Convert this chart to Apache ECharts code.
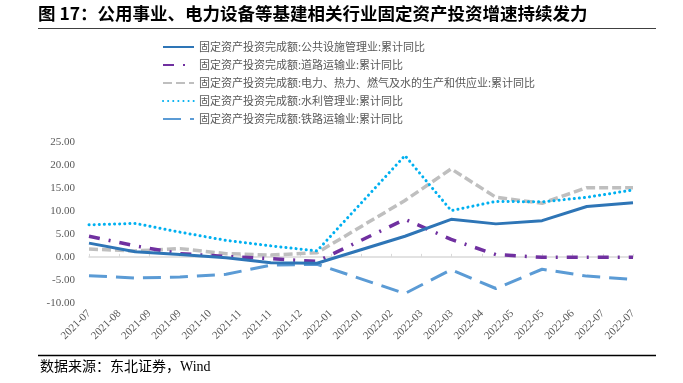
<!DOCTYPE html>
<html>
<head>
<meta charset="utf-8">
<script src="https://cdn.jsdelivr.net/npm/echarts@6/dist/echarts.min.js"></script>
<style>
html,body{margin:0;padding:0;background:#fff;}
#chart{width:683px;height:383px;}
</style>
</head>
<body>
<div id="chart"></div>
<script>
// ---- data ----
const dates = ['2021-07-31','2021-08-31','2021-09-30','2021-10-31','2021-11-30','2021-12-31',
               '2022-02-28','2022-03-31','2022-04-30','2022-05-31','2022-06-30','2022-07-31'];
const seriesNames = [
  '固定资产投资完成额:公共设施管理业:累计同比',
  '固定资产投资完成额:道路运输业:累计同比',
  '固定资产投资完成额:电力、热力、燃气及水的生产和供应业:累计同比',
  '固定资产投资完成额:水利管理业:累计同比',
  '固定资产投资完成额:铁路运输业:累计同比'
];
const publicFacilities = [3.0, 1.1, 0.5, -0.2, -1.3, -1.4, 4.5, 8.2, 7.2, 7.9, 11.0, 11.8];
const roadTransport    = [4.5, 2.4, 0.7, 0.1, -0.4, -1.0, 8.2, 3.8, 0.5, -0.1, -0.1, -0.1];
const powerHeatGas     = [1.7, 1.3, 1.8, 0.7, 0.4, 0.9, 12.3, 19.2, 13.0, 11.7, 15.1, 15.1];
const waterConservancy = [7.0, 7.3, 5.4, 3.6, 2.4, 1.3, 22.1, 10.1, 12.1, 12.0, 13.0, 14.6];
const railTransport    = [-4.1, -4.6, -4.4, -3.8, -1.8, -1.6, -8.0, -2.8, -6.9, -2.7, -4.2, -4.9];
const xTickLabels = ['2021-07','2021-08','2021-09','2021-09','2021-10','2021-11','2021-11','2021-12',
  '2022-01','2022-01','2022-02','2022-03','2022-03','2022-04','2022-05','2022-05','2022-06','2022-07','2022-07'];
const yTicks = [-10, -5, 0, 5, 10, 15, 20, 25];

// date -> tick units (x axis spans first..last date in 18 tick steps)
const t0 = Date.parse(dates[0]);
const t1 = Date.parse(dates[dates.length - 1]);
const nSteps = xTickLabels.length - 1;
const xPos = dates.map(d => (Date.parse(d) - t0) / (t1 - t0) * nSteps);
const pairs = vals => vals.map((v, i) => [xPos[i], v]);

const styles = [
  {color:'#2E75B6', width:3, type:'solid', cap:'butt'},
  {color:'#7030A0', width:3.5, type:[11, 9, 2, 9], cap:'butt'},
  {color:'#BFBFBF', width:3.5, type:[9, 4], cap:'butt'},
  {color:'#00B0F0', width:3, type:[0.1, 5], cap:'round'},
  {color:'#5B9BD5', width:3, type:[18, 9], cap:'butt'}
];
const valueLists = [publicFacilities, roadTransport, powerHeatGas, waterConservancy, railTransport];

const chart = echarts.init(document.getElementById('chart'), null, {renderer:'canvas'});
const serif = '"Liberation Serif","Times New Roman",serif';
const cjk = '"Noto Sans CJK SC","Noto Sans",sans-serif';

chart.setOption({
  animation:false,
  backgroundColor:'#fff',
  graphic:[
    {type:'text', left:38, top:5, style:{text:'图 17：公用事业、电力设备等基建相关行业固定资产投资增速持续发力', font:'bold 17.5px "Noto Sans CJK SC"', fill:'#000'}},
    {type:'line', shape:{x1:38, y1:28.5, x2:656, y2:28.5}, style:{stroke:'#404040', lineWidth:1.2}},
    {type:'line', shape:{x1:38, y1:355.5, x2:656, y2:355.5}, style:{stroke:'#000', lineWidth:1.5}},
    {type:'text', left:40, top:360, style:{text:'数据来源：东北证券，Wind', font:'14px "Liberation Serif","Noto Sans CJK SC"', fill:'#000'}}
  ],
  legend:{
    orient:'vertical', left:157, top:35,
    itemWidth:31, itemHeight:10, itemGap:4,
    itemStyle:{opacity:0},
    textStyle:{fontSize:11, color:'#595959', fontFamily:cjk, lineHeight:14},
    data: seriesNames
  },
  grid:{left:89, right:50, top:142.3, bottom:80.3, containLabel:false},
  xAxis:[
    {type:'value', min:0, max:nSteps, interval:1, position:'bottom',
     axisLine:{show:false, onZero:false}, axisTick:{show:false}, splitLine:{show:false},
     axisLabel:{rotate:45, margin:9, fontSize:11, color:'#595959', fontFamily:serif,
       formatter:(v)=> xTickLabels[Math.round(v)] || ''}},
    {type:'value', min:0, max:nSteps, interval:1, position:'bottom',
     axisLine:{show:true, onZero:true, lineStyle:{color:'#D9D9D9', width:1.5}},
     axisTick:{show:true, inside:true, length:3, lineStyle:{color:'#D9D9D9'}},
     axisLabel:{show:false}, splitLine:{show:false}}
  ],
  yAxis:{type:'value', min:yTicks[0], max:yTicks[yTicks.length-1], interval:5,
    axisLine:{show:false}, axisTick:{show:false}, splitLine:{show:false},
    axisLabel:{margin:14, fontSize:11, color:'#595959', fontFamily:serif, formatter:v=>v.toFixed(2)}},
  series: seriesNames.map((name, i) => ({
    name, type:'line', xAxisIndex:0, data:pairs(valueLists[i]),
    symbol:'none', showSymbol:false, smooth:false,
    itemStyle:{color:styles[i].color},
    lineStyle:{color:styles[i].color, width:styles[i].width, type:styles[i].type, cap:styles[i].cap},
    z: [5,4,2,3,1][i]
  }))
});
</script>
</body>
</html>
